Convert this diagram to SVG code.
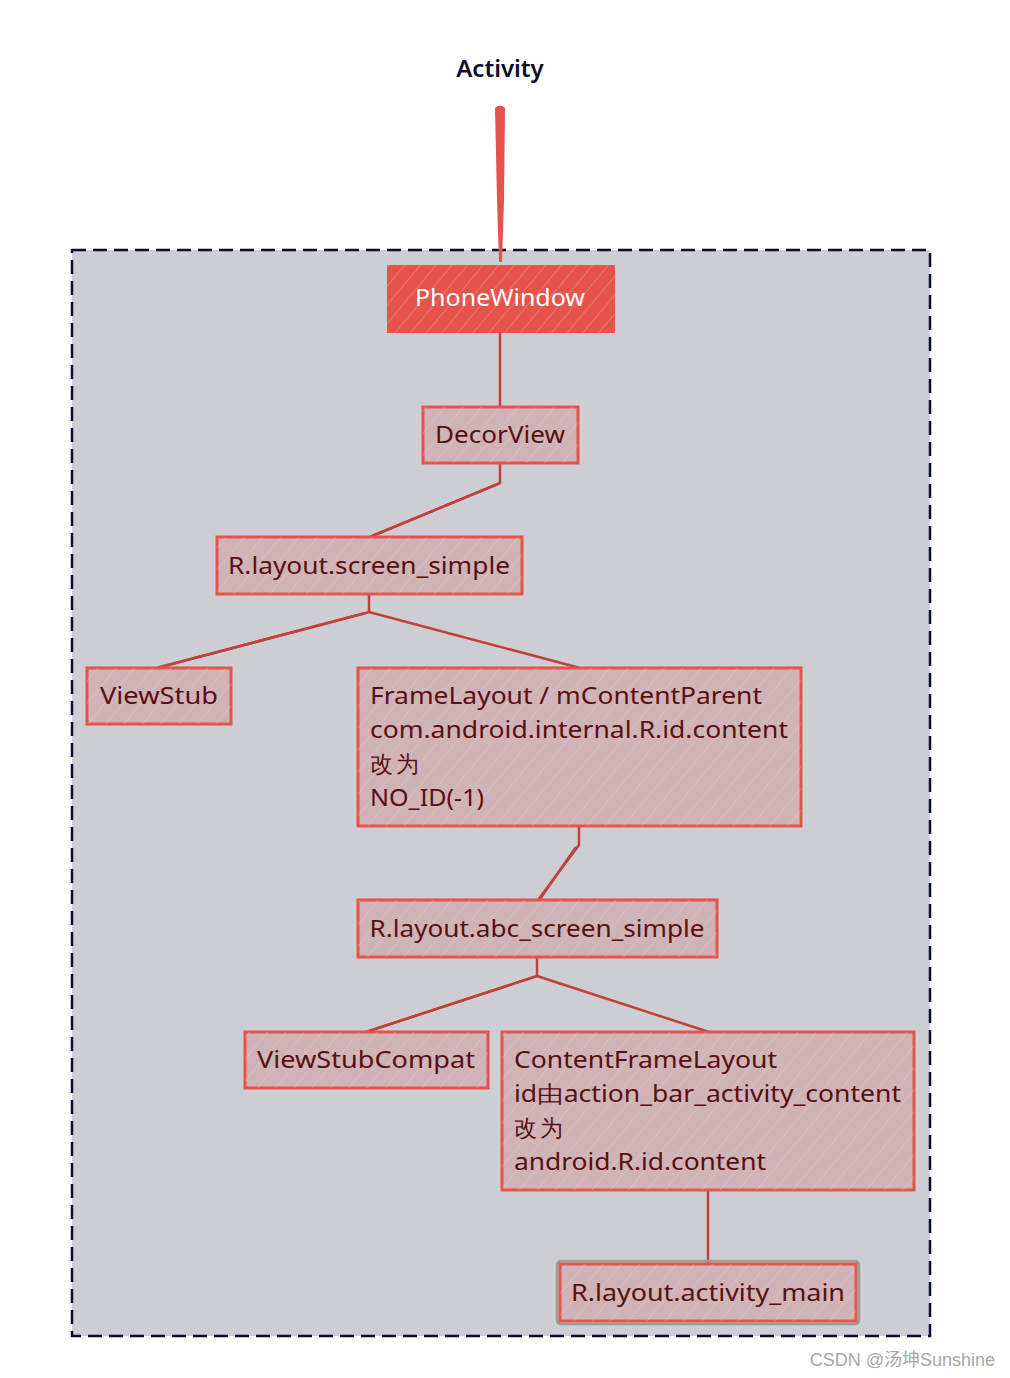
<svg xmlns="http://www.w3.org/2000/svg" width="1010" height="1378" viewBox="0 0 1010 1378">
<defs>
<pattern id="hatch" patternUnits="userSpaceOnUse" width="14" height="14" patternTransform="rotate(40)">
<line x1="0" y1="0" x2="0" y2="14" stroke="#e6dde0" stroke-width="1" opacity="0.55"/>
</pattern>
<pattern id="hatchR" patternUnits="userSpaceOnUse" width="12" height="12" patternTransform="rotate(40)">
<line x1="0" y1="0" x2="0" y2="12" stroke="#f4a8a2" stroke-width="1.2" opacity="0.7"/>
</pattern>
<style>
.box{fill:#cfb3b7;stroke:#e5534b;stroke-width:3}
.hat{fill:url(#hatch);stroke:none}
.t{font-family:"Noto Sans","Liberation Sans",sans-serif;font-size:23px;fill:#5a0f0f}
.c{text-anchor:middle}
.con{fill:none;stroke:#c0403c;stroke-width:2.5;stroke-linejoin:round}
</style>
</defs>
<rect width="1010" height="1378" fill="#ffffff"/>
<rect x="72" y="250" width="858" height="1086" fill="#cdced4" stroke="#0b0b2a" stroke-width="2.5" stroke-dasharray="14 7"/>
<text x="500" y="77" text-anchor="middle" font-family="Noto Sans,Liberation Sans,sans-serif" font-size="24" font-weight="600" fill="#0b0b2a">Activity</text>
<g id="connectors">
<path d="M495,108 Q500,103 505,108 L504,200 L502,262 L499,262 L497,200 Z" fill="#e5534b"/>
<line x1="500" y1="333" x2="500" y2="407" class="con"/>
<polyline points="500,463 500,483 370,537" class="con"/>
<polyline points="498,484 372,536" class="con" stroke-width="1.5"/>
<polyline points="369,594 369,612 157,668" class="con"/>
<polyline points="366,613 160,667" class="con" stroke-width="1.5"/>
<polyline points="369,612 580,668" class="con"/>
<polyline points="579,826 579,845 538,900" class="con"/>
<polyline points="576,847 540,899" class="con" stroke-width="1.5"/>
<polyline points="537,957 537,976 366,1032" class="con"/>
<polyline points="534,977 369,1031" class="con" stroke-width="1.5"/>
<polyline points="537,976 709,1032" class="con"/>
<line x1="708" y1="1190" x2="708" y2="1263" class="con"/>
</g>
<g id="phonewindow">
<rect x="387" y="265" width="228" height="68" fill="#e5534b"/>
<rect x="387" y="265" width="228" height="68" fill="url(#hatchR)"/>
<text x="500" y="306" text-anchor="middle" font-family="Noto Sans,Liberation Sans,sans-serif" font-size="24" fill="#ffffff" textLength="170" lengthAdjust="spacingAndGlyphs">PhoneWindow</text>
</g>
<g id="decorview">
<rect x="423" y="407" width="155" height="56" class="box"/>
<rect x="423" y="407" width="155" height="56" class="hat"/>
<text x="500" y="443" class="t c" textLength="130" lengthAdjust="spacingAndGlyphs">DecorView</text>
</g>
<g id="screen_simple">
<rect x="217" y="537" width="305" height="57" class="box"/>
<rect x="217" y="537" width="305" height="57" class="hat"/>
<text x="369" y="574" class="t c" textLength="282" lengthAdjust="spacingAndGlyphs">R.layout.screen_simple</text>
</g>
<g id="viewstub">
<rect x="87" y="668" width="144" height="56" class="box"/>
<rect x="87" y="668" width="144" height="56" class="hat"/>
<text x="159" y="704" class="t c" textLength="118" lengthAdjust="spacingAndGlyphs">ViewStub</text>
</g>
<g id="framelayout">
<rect x="358" y="668" width="443" height="158" class="box"/>
<rect x="358" y="668" width="443" height="158" class="hat"/>
<text x="370" y="704" class="t" textLength="392" lengthAdjust="spacingAndGlyphs">FrameLayout / mContentParent</text>
<text x="370" y="738" class="t" textLength="418" lengthAdjust="spacingAndGlyphs">com.android.internal.R.id.content</text>
<text x="370" y="772" class="t" font-family="Noto Sans CJK SC,sans-serif" font-size="20" letter-spacing="3">改为</text>
<text x="370" y="806" class="t" textLength="114" lengthAdjust="spacingAndGlyphs">NO_ID(-1)</text>
</g>
<g id="abc_screen_simple">
<rect x="358" y="900" width="359" height="57" class="box"/>
<rect x="358" y="900" width="359" height="57" class="hat"/>
<text x="537" y="937" class="t c" textLength="335" lengthAdjust="spacingAndGlyphs">R.layout.abc_screen_simple</text>
</g>
<g id="viewstubcompat">
<rect x="245" y="1032" width="243" height="56" class="box"/>
<rect x="245" y="1032" width="243" height="56" class="hat"/>
<text x="366" y="1068" class="t c" textLength="218" lengthAdjust="spacingAndGlyphs">ViewStubCompat</text>
</g>
<g id="contentframelayout">
<rect x="502" y="1032" width="412" height="158" class="box"/>
<rect x="502" y="1032" width="412" height="158" class="hat"/>
<text x="514" y="1068" class="t" textLength="263" lengthAdjust="spacingAndGlyphs">ContentFrameLayout</text>
<text x="514" y="1102" class="t" textLength="387" lengthAdjust="spacingAndGlyphs">id由action_bar_activity_content</text>
<text x="514" y="1136" class="t" font-family="Noto Sans CJK SC,sans-serif" font-size="20" letter-spacing="3">改为</text>
<text x="514" y="1170" class="t" textLength="252" lengthAdjust="spacingAndGlyphs">android.R.id.content</text>
</g>
<g id="activity_main">
<rect x="557" y="1261" width="302" height="63" rx="4" fill="none" stroke="#9a9a9a" stroke-width="2.5"/>
<rect x="560" y="1264" width="296" height="57" class="box"/>
<rect x="560" y="1264" width="296" height="57" class="hat"/>
<text x="708" y="1301" class="t c" textLength="274" lengthAdjust="spacingAndGlyphs">R.layout.activity_main</text>
</g>
<text x="995" y="1366" text-anchor="end" font-family="Liberation Sans,Noto Sans CJK SC,sans-serif" font-size="18" fill="#a8a8a8">CSDN @汤坤Sunshine</text>
</svg>
